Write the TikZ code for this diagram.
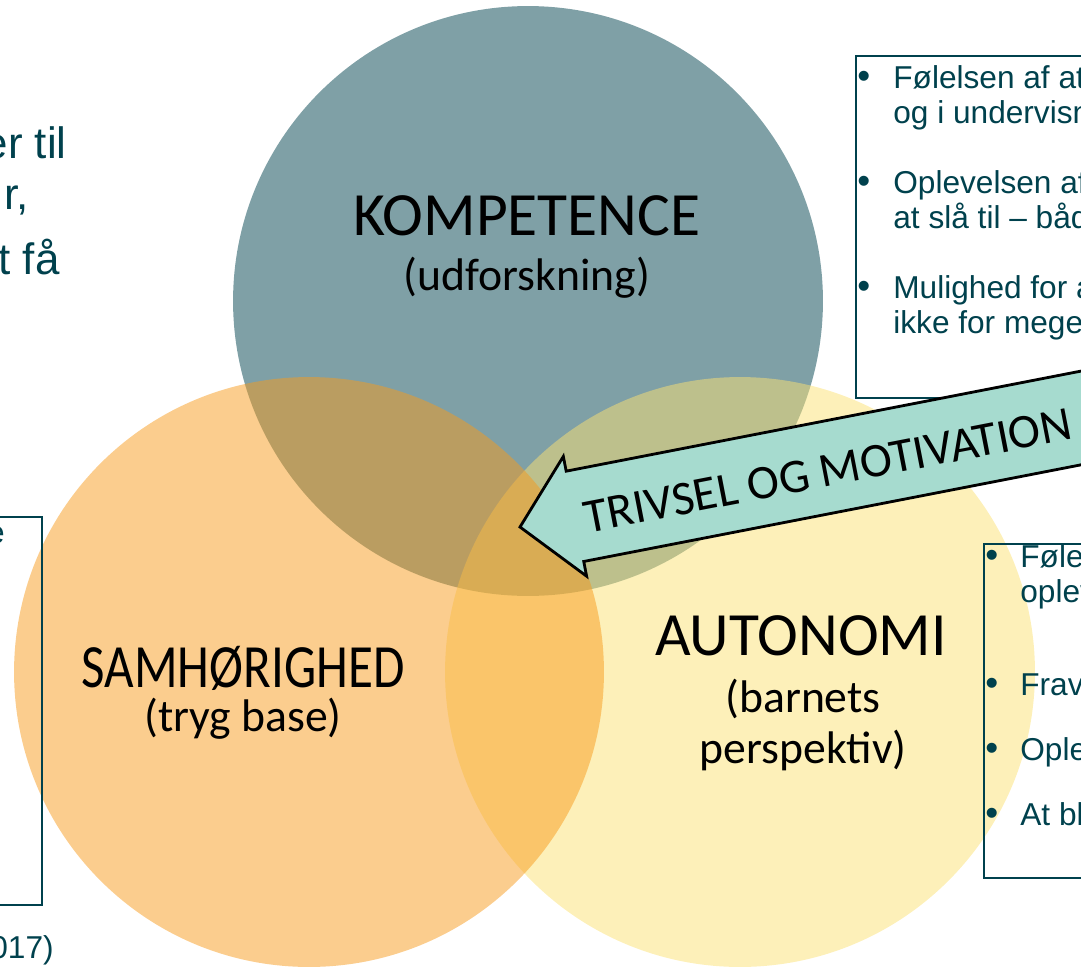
\documentclass[tikz,border=0pt]{standalone}
\usepackage{fontspec}
\setmainfont{Carlito}
\newfontfamily\arialfont{Liberation Sans}
\definecolor{ink}{RGB}{0,65,77}
\definecolor{kompfarve}{RGB}{0,65,77}
\definecolor{samfarve}{RGB}{247,155,29}
\definecolor{autofarve}{RGB}{251,225,115}
\definecolor{pilfarve}{RGB}{166,219,207}

\begin{document}
\begin{tikzpicture}[x=0.02cm, y=-0.02cm]
	\tikzstyle{cirkel} = [circle, minimum size=11.8cm, inner sep=0pt, fill opacity=0.5]
	\tikzstyle{titel} = [anchor=base, inner sep=0pt, font=\fontsize{35pt}{42pt}\selectfont]
	\tikzstyle{undertitel} = [anchor=base, inner sep=0pt, font=\fontsize{26pt}{31pt}\selectfont]
	\tikzstyle{boks} = [draw=ink, line width=1.1pt, inner sep=0pt, minimum width=8cm]
	\tikzstyle{punkt} = [anchor=base west, inner sep=0pt, text=ink, font=\arialfont\fontsize{18pt}{22pt}\selectfont]
	\tikzstyle{prik} = [punkt, font=\arialfont\fontsize{21pt}{22pt}\selectfont]
	\tikzstyle{kanttekst} = [anchor=base east, inner sep=0pt, text=ink, font=\arialfont\fontsize{25pt}{30pt}\selectfont]
	\useasboundingbox (0,0) rectangle (1081,967);
	\clip (0,0) rectangle (1081,967);
	% de tre cirkler
	\node[cirkel, fill=kompfarve] (Kompetence) at (528,301) {};
	\node[cirkel, fill=autofarve] (Autonomi) at (740,672) {};
	\node[cirkel, fill=samfarve] (Samhorighed) at (309,672) {};
	% tekstbokse
	\node[boks, anchor=north west, minimum height=6.84cm] (KompBoks) at (855,55) {};
	\node[boks, anchor=north west, minimum height=6.68cm] (AutoBoks) at (983,543) {};
	\node[boks, anchor=north east, minimum height=7.76cm] (SamBoks) at (43,516) {};
	% navne i cirklerne
	\node[titel] (KompTitel) at (527,235) {KOMPETENCE};
	\node[undertitel] (KompUnder) at (527,290) {(udforskning)};
	\node[titel, xscale=0.83, transform shape] (SamTitel) at (243,687) {SAMHØRIGHED};
	\node[undertitel] (SamUnder) at (243,731) {(tryg base)};
	\node[titel] (AutoTitel) at (801,655) {AUTONOMI};
	\node[undertitel] (AutoUnder) at (803,712) {(barnets};
	\node[undertitel] (AutoUnderTo) at (803,763) {perspektiv)};
	% punkter i boksen ved kompetence
	\node[prik] (kb1) at (857,88) {•};
	\node[prik] (kb2) at (857,193) {•};
	\node[prik] (kb3) at (857,298) {•};
	\node[punkt] (k1) at (893,88) {Følelsen af at};
	\node[punkt] (k2) at (893,123) {og i undervisningen};
	\node[punkt] (k3) at (893,193) {Oplevelsen af};
	\node[punkt] (k4) at (893,228) {at slå til – både};
	\node[punkt] (k5) at (893,298) {Mulighed for at};
	\node[punkt] (k6) at (893,333) {ikke for meget};
	% punkter i boksen ved autonomi
	\node[prik] (ab1) at (985,567) {•};
	\node[prik] (ab2) at (985,695) {•};
	\node[prik] (ab3) at (985,760) {•};
	\node[prik] (ab4) at (985,825) {•};
	\node[punkt] (a1) at (1020,567) {Følelsen};
	\node[punkt] (a2) at (1020,602) {oplevelsen};
	\node[punkt] (a3) at (1020,695) {Fravær};
	\node[punkt] (a4) at (1020,760) {Oplevelsen};
	\node[punkt] (a5) at (1020,825) {At blive};
	% tekst ved venstre kant
	\node[kanttekst] (v1) at (67,158) {er til};
	\node[kanttekst] (v2) at (29,209) {r,};
	\node[kanttekst] (v3) at (60,274) {t få};
	\node[kanttekst, font=\arialfont\fontsize{18pt}{22pt}\selectfont] (v4) at (5,543) {e};
	\node[kanttekst, font=\arialfont\fontsize{18pt}{22pt}\selectfont] (kilde) at (54,958) {(2017)};
	% pilen
	\begin{scope}[shift={(520,527)}, rotate=11]
		\draw[fill=pilfarve, line width=1.6pt, line join=miter] (0,0) -- (56,-61) -- (56,-46) -- (800,-46) -- (800,46) -- (56,46) -- (56,61) -- cycle;
		\node[anchor=base, inner sep=0pt, rotate=11, font=\fontsize{27.5pt}{33pt}\selectfont] (Trivsel) at (313,19) {TRIVSEL OG MOTIVATION};
	\end{scope}
\end{tikzpicture}
\end{document}
